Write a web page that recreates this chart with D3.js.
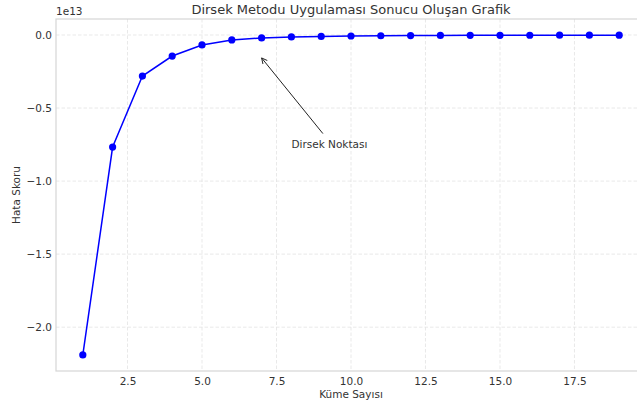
<!DOCTYPE html>
<html><head><meta charset="utf-8">
<script src="https://cdn.jsdelivr.net/npm/d3@7"></script>
<style>
body{margin:0;background:#fff;}
svg{display:block;font-family:"DejaVu Sans",sans-serif;}
</style></head>
<body>
<svg id="c" width="637" height="408"></svg>
<script>
const kValues = [1,2,3,4,5,6,7,8,9,10,11,12,13,14,15,16,17,18,19];
const errorScores = [-2.19,-0.767,-0.281,-0.144,-0.068,-0.034,-0.020,-0.013,-0.010,-0.007,-0.005,-0.004,-0.003,-0.0025,-0.002,-0.0017,-0.0015,-0.0012,-0.001]; // x 1e13
const xTicks = [2.5,5.0,7.5,10.0,12.5,15.0,17.5];
const yTicks = [0.0,-0.5,-1.0,-1.5,-2.0];
const titleText = "Dirsek Metodu Uygulaması Sonucu Oluşan Grafik";
const xLabel = "Küme Sayısı";
const yLabel = "Hata Skoru";
const annText = "Dirsek Noktası";
const annPoint = [7, -0.157];
const annTextPos = [8, -0.75];

const svg = d3.select("#c");
const L=56, R=646, T=19, B=371;
const FS = 10.5;
const x = d3.scaleLinear().domain([0.1,19.9]).range([L,R]);
const y = d3.scaleLinear().domain([-2.3,0.1095]).range([B,T]);

// grid
const g = svg.append("g");
g.selectAll(".gx").data(xTicks).join("line")
  .attr("x1",d=>x(d)).attr("x2",d=>x(d)).attr("y1",T).attr("y2",B)
  .attr("stroke","#e3e3e3").attr("stroke-dasharray","3.5,2").attr("stroke-width",0.8);
g.selectAll(".gy").data(yTicks).join("line")
  .attr("x1",L).attr("x2",R).attr("y1",d=>y(d)).attr("y2",d=>y(d))
  .attr("stroke","#e3e3e3").attr("stroke-dasharray","3.5,2").attr("stroke-width",0.8);

// spines
svg.append("rect").attr("x",L).attr("y",T).attr("width",R-L).attr("height",B-T)
  .attr("fill","none").attr("stroke","#d6d6d6").attr("stroke-width",1.2);

// axes
const xAxis = d3.axisBottom(x).tickValues(xTicks).tickFormat(d3.format(".1f")).tickSize(0).tickPadding(7);
const ax = svg.append("g").attr("transform",`translate(0,${B})`).call(xAxis);
ax.select(".domain").remove();
ax.selectAll("text").attr("font-size",FS).attr("fill","#333").attr("font-family","DejaVu Sans");
const yAxis = d3.axisLeft(y).tickValues(yTicks).tickFormat(d=>d3.format(".1f")(d).replace("-","\u2212")).tickSize(0).tickPadding(4);
const ay = svg.append("g").attr("transform",`translate(${L},0)`).call(yAxis);
ay.select(".domain").remove();
ay.selectAll("text").attr("font-size",FS).attr("fill","#333").attr("font-family","DejaVu Sans");

// offset text
svg.append("text").attr("x",L).attr("y",15).attr("font-size",FS).attr("fill","#333").text("1e13");

// title & labels
svg.append("text").attr("x",(L+R)/2).attr("y",14).attr("text-anchor","middle")
  .attr("font-size",13).attr("fill","#333").text(titleText);
svg.append("text").attr("x",(L+R)/2).attr("y",398).attr("text-anchor","middle")
  .attr("font-size",FS).attr("fill","#333").text(xLabel);
svg.append("text").attr("transform",`translate(20,${(T+B)/2}) rotate(-90)`).attr("text-anchor","middle")
  .attr("font-size",FS).attr("fill","#333").text(yLabel);

// line
const data = kValues.map((k,i)=>[k,errorScores[i]]);
svg.append("path").datum(data)
  .attr("d",d3.line().x(d=>x(d[0])).y(d=>y(d[1])))
  .attr("fill","none").attr("stroke","#0000ff").attr("stroke-width",1.5);
svg.selectAll(".pt").data(data).join("circle")
  .attr("cx",d=>x(d[0])).attr("cy",d=>y(d[1])).attr("r",3.6).attr("fill","#0000ff");

// annotation
const defs = svg.append("defs");
defs.append("marker").attr("id","ah").attr("viewBox","0 0 10 10").attr("refX",9).attr("refY",5)
  .attr("markerWidth",7).attr("markerHeight",7).attr("orient","auto")
  .append("path").attr("d","M1,1 L9,5 L1,9").attr("fill","none").attr("stroke","#222").attr("stroke-width",1.3);
const tx = x(annTextPos[0]), ty = y(annTextPos[1]);
svg.append("line").attr("x1",tx+31.5).attr("y1",ty-11).attr("x2",x(annPoint[0])).attr("y2",y(annPoint[1]))
  .attr("stroke","#222").attr("stroke-width",1).attr("marker-end","url(#ah)");
svg.append("text").attr("x",tx).attr("y",ty+3).attr("font-size",FS).attr("fill","#333").text(annText);
</script>
</body></html>
